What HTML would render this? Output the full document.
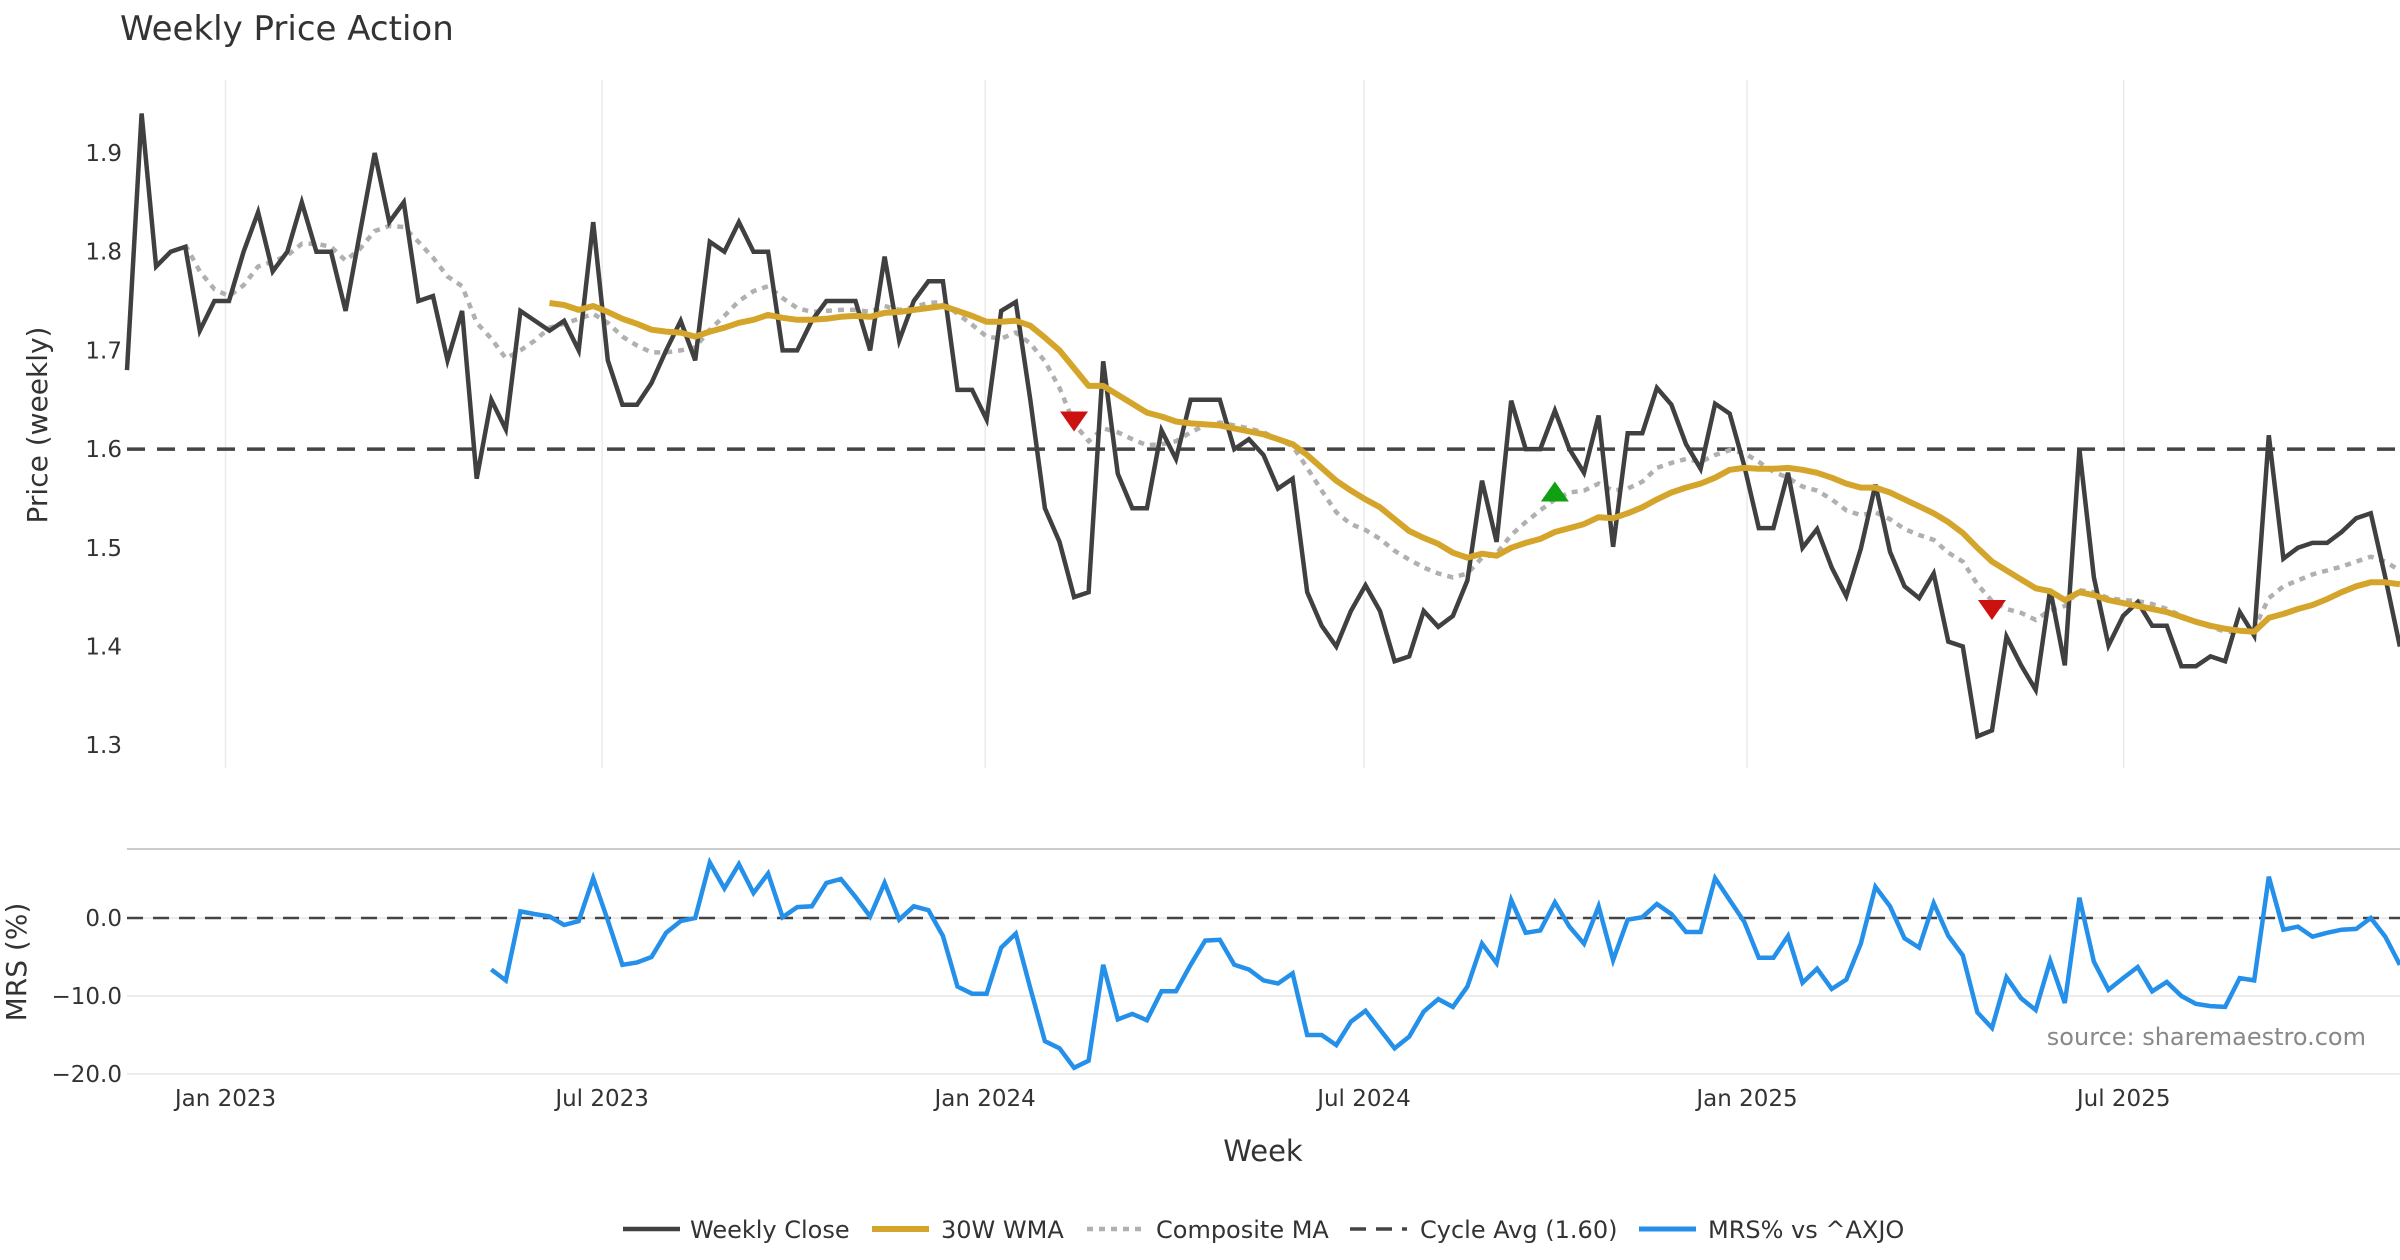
<!DOCTYPE html>
<html><head><meta charset="utf-8"><style>
html,body{margin:0;padding:0;background:#fff;}
svg{display:block;font-family:"DejaVu Sans","Liberation Sans",sans-serif;}
</style></head><body>
<svg id="chart" width="2400" height="1260" viewBox="0 0 2400 1260" xmlns="http://www.w3.org/2000/svg">
<text x="120" y="40" font-size="34" fill="#333">Weekly Price Action</text>
<g id="grid"></g><g id="series"></g><g id="axes"></g>
<text transform="translate(47,425) rotate(-90)" text-anchor="middle" font-size="28" fill="#333">Price (weekly)</text>
<text transform="translate(26,962) rotate(-90)" text-anchor="middle" font-size="28" fill="#333">MRS (%)</text>
<text x="1263" y="1161" text-anchor="middle" font-size="29" fill="#333">Week</text>
<text x="2366" y="1045" text-anchor="end" font-size="24" fill="#888">source: sharemaestro.com</text>
<g id="legend"></g>
</svg>
<script>
const closeVals=[1.68,1.94,1.785,1.80,1.805,1.72,1.75,1.75,1.80,1.84,1.78,1.80,1.85,1.80,1.80,1.74,1.82,1.90,1.83,1.85,1.75,1.755,1.69,1.74,1.57,1.65,1.62,1.74,1.73,1.72,1.73,1.70,1.83,1.69,1.645,1.645,1.667,1.70,1.73,1.69,1.81,1.80,1.83,1.80,1.80,1.70,1.70,1.73,1.75,1.75,1.75,1.70,1.795,1.71,1.75,1.77,1.77,1.66,1.66,1.63,1.74,1.749,1.65,1.54,1.506,1.45,1.455,1.689,1.575,1.54,1.54,1.619,1.59,1.65,1.65,1.65,1.60,1.61,1.594,1.56,1.57,1.455,1.421,1.40,1.436,1.462,1.436,1.385,1.39,1.436,1.42,1.431,1.467,1.568,1.506,1.649,1.60,1.60,1.639,1.60,1.576,1.634,1.501,1.616,1.616,1.662,1.645,1.605,1.58,1.646,1.636,1.583,1.52,1.52,1.576,1.50,1.519,1.48,1.451,1.499,1.564,1.496,1.461,1.449,1.474,1.405,1.40,1.309,1.315,1.41,1.381,1.356,1.458,1.381,1.60,1.47,1.401,1.431,1.445,1.421,1.421,1.38,1.38,1.39,1.385,1.435,1.411,1.614,1.489,1.50,1.505,1.505,1.516,1.53,1.535,1.47,1.40];
const wmaVals=[null,null,null,null,null,null,null,null,null,null,null,null,null,null,null,null,null,null,null,null,null,null,null,null,null,null,null,null,null,1.748,1.746,1.741,1.745,1.739,1.732,1.727,1.721,1.719,1.718,1.714,1.719,1.723,1.728,1.731,1.736,1.733,1.731,1.731,1.732,1.734,1.735,1.734,1.738,1.739,1.741,1.743,1.745,1.74,1.735,1.729,1.729,1.73,1.725,1.713,1.70,1.682,1.664,1.664,1.655,1.646,1.637,1.633,1.628,1.626,1.625,1.624,1.621,1.618,1.615,1.61,1.605,1.594,1.581,1.568,1.558,1.549,1.541,1.529,1.517,1.51,1.504,1.495,1.49,1.494,1.492,1.50,1.505,1.509,1.516,1.52,1.524,1.531,1.53,1.535,1.541,1.549,1.556,1.561,1.565,1.571,1.579,1.581,1.58,1.58,1.581,1.579,1.576,1.571,1.565,1.561,1.561,1.556,1.549,1.542,1.535,1.526,1.515,1.50,1.486,1.477,1.468,1.459,1.456,1.447,1.455,1.452,1.447,1.444,1.441,1.438,1.435,1.43,1.425,1.421,1.418,1.416,1.415,1.429,1.433,1.438,1.442,1.448,1.455,1.461,1.465,1.465,1.463];
const compVals=[null,null,null,null,1.807,1.78,1.762,1.755,1.766,1.785,1.79,1.796,1.808,1.808,1.805,1.791,1.803,1.821,1.826,1.825,1.81,1.794,1.775,1.765,1.728,1.712,1.692,1.70,1.71,1.723,1.727,1.732,1.737,1.728,1.714,1.705,1.698,1.698,1.70,1.703,1.721,1.735,1.75,1.76,1.765,1.753,1.743,1.739,1.74,1.741,1.741,1.739,1.745,1.741,1.744,1.748,1.749,1.737,1.726,1.714,1.712,1.718,1.707,1.689,1.662,1.626,1.608,1.621,1.617,1.61,1.604,1.605,1.608,1.617,1.624,1.627,1.624,1.621,1.617,1.61,1.603,1.581,1.558,1.536,1.524,1.518,1.509,1.497,1.488,1.48,1.474,1.47,1.474,1.49,1.494,1.513,1.526,1.538,1.549,1.556,1.558,1.565,1.558,1.56,1.567,1.581,1.586,1.59,1.587,1.594,1.599,1.596,1.587,1.577,1.571,1.562,1.558,1.549,1.538,1.533,1.536,1.529,1.519,1.513,1.508,1.495,1.486,1.463,1.446,1.438,1.434,1.427,1.437,1.441,1.457,1.455,1.449,1.447,1.446,1.443,1.438,1.431,1.425,1.42,1.415,1.415,1.418,1.449,1.461,1.467,1.473,1.477,1.481,1.486,1.491,1.486,1.477];
const mrsVals=[null,null,null,null,null,null,null,null,null,null,null,null,null,null,null,null,null,null,null,null,null,null,null,null,null,-6.6,-8.0,0.85,0.5,0.2,-0.9,-0.4,5.1,-0.3,-6.0,-5.7,-5.0,-1.9,-0.4,0,7.1,3.8,6.9,3.2,5.7,0.1,1.4,1.5,4.5,5.0,2.7,0.2,4.5,-0.2,1.5,1.0,-2.3,-8.8,-9.7,-9.7,-3.8,-2.0,-9.0,-15.8,-16.7,-19.2,-18.3,-6.0,-13.0,-12.3,-13.1,-9.4,-9.4,-6.0,-2.9,-2.8,-6.0,-6.6,-8.0,-8.4,-7.1,-15.0,-15.0,-16.3,-13.3,-11.9,-14.3,-16.7,-15.2,-12.0,-10.4,-11.4,-8.8,-3.3,-5.8,2.3,-1.9,-1.6,2.0,-1.1,-3.3,1.5,-5.4,-0.2,0.1,1.8,0.5,-1.8,-1.8,5.1,2.3,-0.5,-5.1,-5.1,-2.3,-8.3,-6.5,-9.1,-7.9,-3.3,4.0,1.5,-2.6,-3.8,1.9,-2.3,-4.8,-12.1,-14.1,-7.6,-10.3,-11.8,-5.5,-10.9,2.6,-5.6,-9.2,-7.7,-6.3,-9.4,-8.2,-10.0,-11.0,-11.3,-11.4,-7.7,-8.0,5.3,-1.5,-1.1,-2.4,-1.9,-1.5,-1.4,0,-2.4,-6.0];
const cycleAvg=1.60;
const sellIdx=[65,128];
const sellVals=[1.629,1.438];
const buyIdx=[98];
const buyVals=[1.556];
const priceTicks=[1.3,1.4,1.5,1.6,1.7,1.8,1.9];
const mrsTicks=[0,-10,-20];
const mrsTickLabels=["0.0","\u221210.0","\u221220.0"];
const xTickWeeks=[6.76,32.61,58.9,84.9,111.19,137.04];
const xTickLabels=["Jan 2023","Jul 2023","Jan 2024","Jul 2024","Jan 2025","Jul 2025"];

const NS="http://www.w3.org/2000/svg";
const X=i=>127+i*14.57;
const YP=v=>153+(1.9-v)*987;
const YM=v=>918-v*7.8;
function mk(tag,attrs,parent){const e=document.createElementNS(NS,tag);for(const k in attrs)e.setAttribute(k,attrs[k]);document.getElementById(parent).appendChild(e);return e;}
function pathOf(vals,Y){let d="",pen=false;vals.forEach((v,i)=>{if(v===null){pen=false;return;}d+=(pen?"L":"M")+X(i).toFixed(1)+","+Y(v).toFixed(1);pen=true;});return d;}

xTickWeeks.forEach((w,k)=>{
  let g=mk("line",{x1:X(w),x2:X(w),y1:80,y2:768,stroke:"#ebebeb","stroke-width":1.5},"grid");
  
  
  let t=mk("text",{x:X(w),y:1106,"text-anchor":"middle","font-size":23,fill:"#333"},"axes");
  t.textContent=xTickLabels[k];
  
  
});
priceTicks.forEach(v=>{
  let t=mk("text",{x:122,y:YP(v)+8,"text-anchor":"end","font-size":23,fill:"#333"},"axes");
  t.textContent=v.toFixed(1);
  
  
});
let sep=mk("line",{x1:127,x2:2400,y1:849,y2:849,stroke:"#cccccc","stroke-width":2},"grid");


mrsTicks.forEach((v,k)=>{
  let g=mk("line",{x1:127,x2:2400,y1:YM(v),y2:YM(v),stroke:"#ececec","stroke-width":2},"grid");
  
  
  let t=mk("text",{x:122,y:YM(v)+8,"text-anchor":"end","font-size":23,fill:"#333"},"axes");
  t.textContent=mrsTickLabels[k];
  
  
});
let cyc=mk("line",{x1:127,x2:2400,y1:YP(cycleAvg),y2:YP(cycleAvg),stroke:"#444","stroke-width":3.5,"stroke-dasharray":"18,12"},"series");


let zl=mk("line",{x1:127,x2:2400,y1:YM(0),y2:YM(0),stroke:"#444","stroke-width":2.5,"stroke-dasharray":"16,10"},"series");


let cp=mk("path",{d:pathOf(compVals,YP),fill:"none",stroke:"#b0b0b0","stroke-width":4.5,"stroke-dasharray":"6,6"},"series");


let cl=mk("path",{d:pathOf(closeVals,YP),fill:"none",stroke:"#404040","stroke-width":4.5,"stroke-linejoin":"miter"},"series");


let wm=mk("path",{d:pathOf(wmaVals,YP),fill:"none",stroke:"#d4a52a","stroke-width":6,"stroke-linejoin":"round"},"series");


let mr=mk("path",{d:pathOf(mrsVals,YM),fill:"none",stroke:"#2590ea","stroke-width":4.5},"series");


sellIdx.forEach((ix,k)=>{const x=X(ix),y=YP(sellVals[k]);
  let m=mk("polygon",{points:`${x-14},${y-9} ${x+14},${y-9} ${x},${y+11}`,fill:"#cc1111"},"series");
  
  });
buyIdx.forEach((ix,k)=>{const x=X(ix),y=YP(buyVals[k]);
  let m=mk("polygon",{points:`${x-14},${y+9} ${x+14},${y+9} ${x},${y-11}`,fill:"#11a011"},"series");
  
  });
const legItems=[["Weekly Close","#404040","",4.5,623,690],["30W WMA","#d4a52a","",6,872,941],["Composite MA","#b0b0b0","6,6",4.5,1087,1156],["Cycle Avg (1.60)","#444","16,10",3.5,1350,1420],["MRS% vs ^AXJO","#2590ea","",5,1639,1708]];
legItems.forEach(it=>{
  let l=mk("line",{x1:it[4],x2:it[4]+57,y1:1229,y2:1229,stroke:it[1],"stroke-width":it[3],"stroke-dasharray":it[2]},"legend");
  
  
  let t=mk("text",{x:it[5],y:1238,"font-size":24,fill:"#333"},"legend");
  t.textContent=it[0];
  
  
});
</script>
</body></html>
